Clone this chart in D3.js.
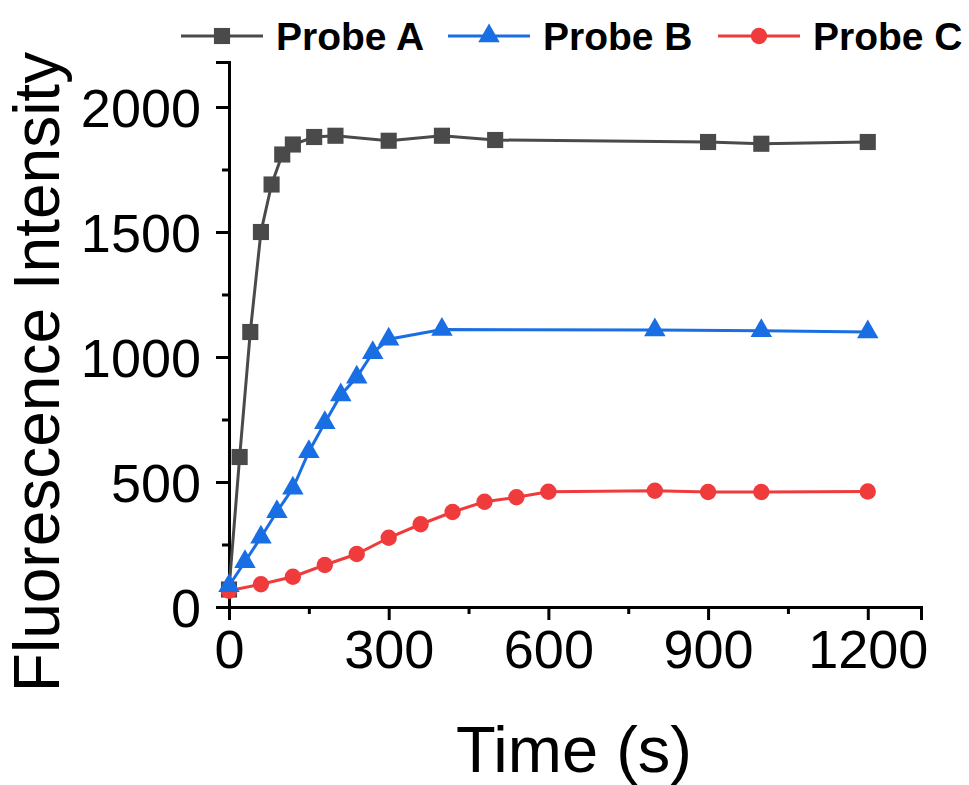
<!DOCTYPE html>
<html>
<head>
<meta charset="utf-8">
<script src="https://cdn.jsdelivr.net/npm/d3@7"></script>
<style>
  html, body { margin: 0; padding: 0; background: #fff; }
  svg { display: block; }
  text { font-family: "Liberation Sans", Arial, sans-serif; }
</style>
</head>
<body>
<svg id="chart" width="969" height="785"></svg>
<script>
// ---- data ----
const timeA = [0, 20, 40, 60, 80, 100, 120, 160, 200, 300, 400, 500, 900, 1000, 1200];
const valA  = [70, 600, 1100, 1500, 1690, 1810, 1850, 1880, 1885, 1865, 1885, 1868, 1860, 1853, 1860];
const timeB = [0, 30, 60, 90, 120, 150, 180, 210, 240, 270, 300, 400, 800, 1000, 1200];
const valB  = [85, 181, 279, 381, 475, 621, 737, 848, 919, 1017, 1071, 1110, 1108, 1105, 1100];
const timeC = [0, 60, 120, 180, 240, 300, 360, 420, 480, 540, 600, 800, 900, 1000, 1200];
const valC  = [65, 91, 121, 168, 212, 277, 331, 380, 421, 439, 461, 465, 460, 460, 462];
const seriesNames = ["Probe A", "Probe B", "Probe C"];
const xTicks = [0, 300, 600, 900, 1200];
const xMinor = [150, 450, 750, 1050];
const yTicks = [0, 500, 1000, 1500, 2000];
const yMinor = [250, 750, 1250, 1750];
const xTitle = "Time (s)";
const yTitle = "Fluorescence Intensity";

const colors = ["#4a4a4a", "#1a6ee3", "#ef3b3b"];
const shapes = [d3.symbolSquare, d3.symbolTriangle, d3.symbolCircle];
const symSizes = [260, 200, 210];

const svg = d3.select("#chart");
const x = d3.scaleLinear().domain([0, 1300]).range([229, 921]);
const y = d3.scaleLinear().domain([0, 2180]).range([607, 62]);

// axes
const gx = svg.append("g").attr("transform", `translate(0,${y(0)})`);
gx.call(d3.axisBottom(x).tickValues(xTicks).tickSize(13).tickPadding(10).tickFormat(d3.format("d")));
gx.append("g").call(d3.axisBottom(x).tickValues(xMinor).tickSize(7).tickFormat(""));
const gy = svg.append("g").attr("transform", `translate(${x(0)},0)`);
gy.call(d3.axisLeft(y).tickValues(yTicks).tickSize(13).tickPadding(15).tickFormat(d3.format("d")));
gy.append("g").call(d3.axisLeft(y).tickValues(yMinor).tickSize(7).tickFormat(""));

svg.selectAll(".domain").attr("stroke", "#000").attr("stroke-width", 3);
svg.selectAll(".tick line").attr("stroke", "#000").attr("stroke-width", 3);
svg.selectAll(".tick text").attr("fill", "#000").style("font-size", "54px")
   .style("font-family", '"Liberation Sans", Arial, sans-serif');
gx.selectAll(".tick text").attr("dy", "0.71em");
gy.selectAll(".tick text").attr("dy", "0.36em");
// remove outer domain lines from minor axes
svg.selectAll("g g .domain").remove();

// axis titles
svg.append("text").attr("x", 574).attr("y", 772).attr("text-anchor", "middle")
   .style("font-size", "65px").attr("fill", "#000").text(xTitle);
svg.append("text").attr("transform", "translate(59,372) rotate(-90)").attr("text-anchor", "middle")
   .style("font-size", "64px").attr("fill", "#000").text(yTitle);

// series
const series = [
  timeA.map((t, i) => ({t, v: valA[i]})),
  timeB.map((t, i) => ({t, v: valB[i]})),
  timeC.map((t, i) => ({t, v: valC[i]}))
];
const line = d3.line().x(d => x(d.t)).y(d => y(d.v));
const order = [0, 2, 1];
order.forEach(k => {
  const g = svg.append("g");
  g.append("path").datum(series[k]).attr("d", line).attr("fill", "none")
    .attr("stroke", colors[k]).attr("stroke-width", 3);
  g.selectAll("path.m").data(series[k]).join("path").attr("class", "m")
    .attr("transform", d => `translate(${x(d.t)},${y(d.v)})`)
    .attr("d", d3.symbol().type(shapes[k]).size(symSizes[k]))
    .attr("fill", colors[k]);
});

// legend
const legendX = [181, 448, 718];
seriesNames.forEach((name, k) => {
  const lx = legendX[k], ly = 36;
  svg.append("line").attr("x1", lx).attr("x2", lx + 82).attr("y1", ly).attr("y2", ly)
     .attr("stroke", colors[k]).attr("stroke-width", 3);
  svg.append("path").attr("transform", `translate(${lx + 41},${ly})`)
     .attr("d", d3.symbol().type(shapes[k]).size(symSizes[k])).attr("fill", colors[k]);
  svg.append("text").attr("x", lx + 95).attr("y", ly + 14)
     .style("font-size", "39px").style("font-weight", "bold").attr("fill", "#000").text(name);
});
</script>
</body>
</html>
